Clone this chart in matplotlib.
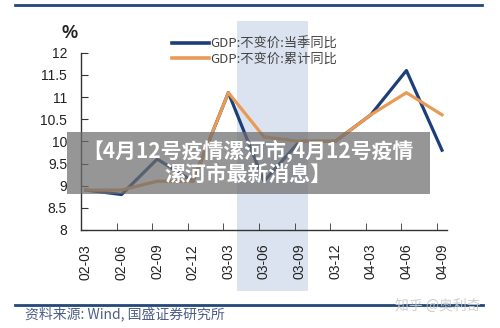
import numpy as np
import matplotlib
matplotlib.use("Agg")
import matplotlib.pyplot as plt
from matplotlib.lines import Line2D

plt.rcParams['font.family'] = ['Liberation Sans', 'Noto Sans CJK SC', 'DejaVu Sans']

# quarterly GDP growth, %
quarters = ['02-03', '02-06', '02-09', '02-12', '03-03', '03-06',
            '03-09', '03-12', '04-03', '04-06', '04-09']
gdp_q = [8.9, 8.8, 9.6, 9.1, 11.1, 9.1, 10.0, 10.0, 10.6, 11.6, 9.8]
gdp_cum = [8.9, 8.9, 9.1, 9.1, 11.1, 10.1, 10.0, 10.0, 10.6, 11.1, 10.6]
series_names = ['GDP:不变价:当季同比', 'GDP:不变价:累计同比']
yticks = [8, 8.5, 9, 9.5, 10, 10.5, 11, 11.5, 12]

navy = '#1c3f7c'
orange = '#e99a55'

fig = plt.figure(figsize=(5, 3.28), dpi=100)
ax = fig.add_axes([0.162, 0.299, 0.732, 0.540])

x = np.arange(len(quarters))

# SARS period shading
ax.axvspan(4.24, 6.24, ymin=-0.345, ymax=1.18, color='#dce3f0',
           clip_on=False, zorder=0, lw=0)

ax.plot(x, gdp_q, color=navy, lw=2.3, zorder=3)
ax.plot(x, gdp_cum, color=orange, lw=2.3, zorder=4)

ax.set_xlim(-0.14, 10.14)
ax.set_ylim(8, 12)
ax.set_yticks(yticks)
ax.set_yticklabels(['8', '8.5', '9', '9.5', '10', '10.5', '11', '11.5', '12'])
ax.set_xticks(x)
ax.set_xticklabels(quarters, rotation=90)
ax.set_xticks(x - 0.14, minor=True)
ax.tick_params(axis='x', which='major', length=0, pad=10, labelsize=10,
               labelcolor='#222222')
ax.tick_params(axis='x', which='minor', direction='in', length=5,
               color='#333333')
ax.tick_params(axis='y', direction='in', length=5, pad=10, labelsize=10,
               labelcolor='#222222', color='#333333')
for s in ['top', 'right']:
    ax.spines[s].set_visible(False)
for s in ['left', 'bottom']:
    ax.spines[s].set_color('#333333')
    ax.spines[s].set_linewidth(1)
ax.set_facecolor('none')

ax.text(-0.01, 1.06, '%', transform=ax.transAxes, ha='right', va='bottom',
        fontsize=13, fontweight='bold', color='#222222')

handles = [Line2D([], [], color=navy, lw=2.6),
           Line2D([], [], color=orange, lw=2.6)]
leg = fig.legend(handles, series_names, loc='upper left',
                 bbox_to_anchor=(0.334, 0.902), frameon=False,
                 fontsize=9.5, handlelength=2.8, handletextpad=0.1,
                 labelspacing=0.2, borderaxespad=0)
for t in leg.get_texts():
    t.set_color('#444444')
    t.set_family(['Noto Sans CJK SC', 'DejaVu Sans'])

# header and footer rules
fig.add_artist(Line2D([0.03, 0.964], [0.985, 0.985], color='#23477a', lw=2))
fig.add_artist(Line2D([0.03, 0.966], [0.07, 0.07], color='#23477a', lw=2))
fig.text(0.05, 0.043, '资料来源: Wind, 国盛证券研究所', fontsize=10,
         style='italic', color='#4d5f86', va='center', ha='left',
         family=['Noto Sans CJK SC', 'DejaVu Sans'])
fig.text(0.875, 0.068, '知乎 @奥利奇', fontsize=10, color='#c8c8c8',
         va='center', ha='center', alpha=0.9,
         family=['Noto Sans CJK SC', 'DejaVu Sans'])

# title banner
fig.patches.append(plt.Rectangle((0.134, 1 - 194 / 328), 0.726, 62 / 328,
                                 transform=fig.transFigure,
                                 facecolor='#6e6e6e', alpha=0.72,
                                 edgecolor='none', zorder=10))
fig.text(0.496, 1 - 162 / 328, '【4月12号疫情漯河市,4月12号疫情\n漯河市最新消息】',
         ha='center', va='center', fontsize=15, fontweight='bold',
         color='white', linespacing=1.15, zorder=11,
         family=['Noto Sans CJK SC', 'DejaVu Sans'])

fig.savefig('out.png', dpi=100)
